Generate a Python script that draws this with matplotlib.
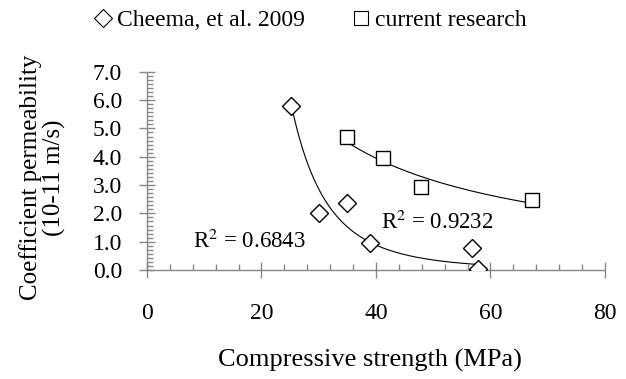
import numpy as np
import matplotlib
matplotlib.use("Agg")
import matplotlib.pyplot as plt
from matplotlib.ticker import MultipleLocator, AutoMinorLocator
from matplotlib.lines import Line2D

# values
cheema_x = [25.2, 30.0, 35.0, 39.0, 56.8, 57.9]
cheema_y = [5.79, 2.02, 2.38, 0.94, 0.77, 0.05]
current_x = [34.9, 41.3, 47.9, 67.2]
current_y = [4.68, 3.96, 2.94, 2.47]
cheema_r2 = "R$^2$ = 0.6843"
current_r2 = "R$^2$ = 0.9232"
x_ticks = [0, 20, 40, 60, 80]
y_ticks = [0, 1, 2, 3, 4, 5, 6, 7]

plt.rcParams["font.family"] = ["Liberation Serif", "DejaVu Serif"]
plt.rcParams["mathtext.fontset"] = "stix"
AX_GREY = "#878787"


def power_trend(xs, ys):
    # Excel-style power trendline: linear fit of ln(y) on ln(x)
    b, ln_a = np.polyfit(np.log(xs), np.log(ys), 1)
    xx = np.linspace(min(xs), max(xs), 200)
    return xx, np.exp(ln_a) * xx ** b


fig = plt.figure(figsize=(6.26, 3.79), dpi=100)
ax = fig.add_axes([0.2348, 0.2876, 0.7316, 0.523])

for xs, ys in [(cheema_x, cheema_y), (current_x, current_y)]:
    tx, ty = power_trend(xs, ys)
    ax.plot(tx, ty, color="black", lw=0.8, zorder=2)

ax.plot(cheema_x, cheema_y, ls="none", marker="D", ms=9.5, mfc="white",
        mec="black", mew=1.0, zorder=3)
ax.plot(current_x, current_y, ls="none", marker="s", ms=9.5, mfc="white",
        mec="black", mew=1.0, zorder=3)

ax.text(8.0, 1.0, cheema_r2, fontsize=16.5, va="center", ha="left")
ax.text(40.8, 1.68, current_r2, fontsize=16.5, va="center", ha="left")

ax.set_xlim(0, 80)
ax.set_ylim(0, 7)
ax.set_xticks(x_ticks)
ax.set_yticks(y_ticks)
ax.set_yticklabels([f"{v:.1f}" for v in y_ticks])
ax.xaxis.set_minor_locator(MultipleLocator(4))
ax.yaxis.set_minor_locator(AutoMinorLocator(7))

for s in ["top", "right"]:
    ax.spines[s].set_visible(False)
for s in ["left", "bottom"]:
    ax.spines[s].set_color(AX_GREY)
    ax.spines[s].set_linewidth(1.0)

ax.tick_params(axis="both", which="major", direction="inout", length=12,
               width=1.0, color=AX_GREY, labelsize=17)
ax.tick_params(axis="both", which="minor", direction="in", length=4,
               width=1.0, color=AX_GREY)
ax.tick_params(axis="x", which="major", pad=18)
ax.tick_params(axis="y", which="major", pad=12)

ax.set_xlabel("Compressive strength (MPa)", fontsize=19)
ax.xaxis.set_label_coords(0.487, -0.40)
ax.set_ylabel("Coefficient permeability\n(10-11 m/s)", fontsize=18,
              linespacing=1.08)
ax.yaxis.set_label_coords(-0.176, 0.467)

handles = [
    Line2D([], [], ls="none", marker="D", ms=9, mfc="white", mec="black", mew=0.8),
    Line2D([], [], ls="none", marker="s", ms=9.5, mfc="white", mec="black", mew=0.8),
]
fig.legend(handles, ["Cheema, et al. 2009", "current research"],
           loc="center", bbox_to_anchor=(0.4976, 0.947), ncol=2, frameon=False,
           fontsize=17, handlelength=0.6, handletextpad=0.3, columnspacing=2.08)

fig.savefig("out.png", dpi=100)
